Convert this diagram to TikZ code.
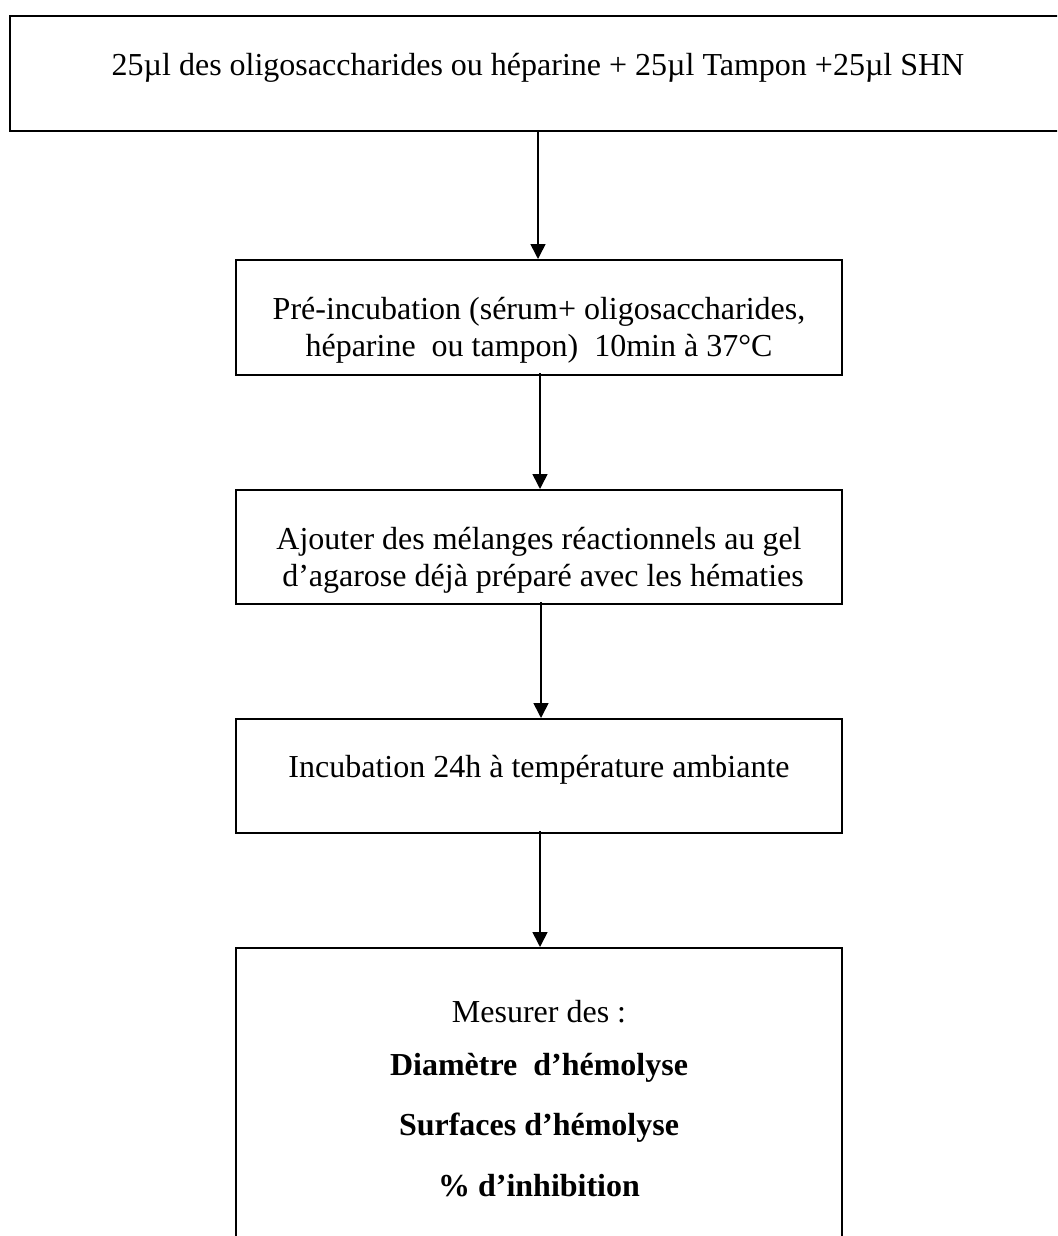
\documentclass[tikz,border=0pt]{standalone}
\usepackage{fontspec}
\setmainfont{Liberation Serif}
\usetikzlibrary{arrows.meta}
\begin{document}
\begin{tikzpicture}[x=1pt,y=-1pt,
  box/.style={draw=black,line width=2pt,minimum width=606pt,inner sep=0pt},
  txt/.style={font=\fontsize{32}{37}\selectfont,align=center,inner sep=0pt},
  flow/.style={line width=1.6pt,-{Triangle[width=15pt,length=15pt]}}]
\useasboundingbox (0,0) rectangle (1057,1236);
\fill[white] (0,0) rectangle (1057,1236);
\clip (0,0) rectangle (1057,1236);
% boxes
\node[box,minimum width=1060pt,minimum height=115pt] (b1) at (540,73.5) {};
\node[box,minimum height=115pt] (b2) at (539,317.5) {};
\node[box,minimum height=114pt] (b3) at (539,547) {};
\node[box,minimum height=114pt] (b4) at (539,776) {};
\node[box,minimum height=320pt] (b5) at (539,1108) {};
% texts
\node[txt] (t1) at (538,68) {25µl des oligosaccharides ou héparine + 25µl Tampon +25µl SHN};
\node[txt] (t2) at (539,330) {Pré-incubation (sérum+ oligosaccharides,\\héparine\ \ ou tampon)\ \ 10min à 37°C};
\node[txt] (t3) at (539,560) {Ajouter des mélanges réactionnels au gel\\\ d’agarose déjà préparé avec les hématies};
\node[txt] (t4) at (539,770) {Incubation 24h à température ambiante};
\node[txt] (t5a) at (539,1012) {Mesurer des :};
\node[txt,font=\fontsize{32}{37}\selectfont\bfseries] (t5b) at (539,1068) {Diamètre\ \ d’hémolyse};
\node[txt,font=\fontsize{32}{37}\selectfont\bfseries] (t5c) at (539,1128) {Surfaces d’hémolyse};
\node[txt,font=\fontsize{32}{37}\selectfont\bfseries] (t5d) at (539,1186) {\% d’inhibition};
% arrows
\draw[flow] (b1.south -| 538,0) -- (b2.north -| 538,0);
\draw[flow] ([yshift=3pt]b2.south -| 540,0) -- (b3.north -| 540,0);
\draw[flow] ([yshift=3pt]b3.south -| 541,0) -- (b4.north -| 541,0);
\draw[flow] ([yshift=3pt]b4.south -| 540,0) -- (b5.north -| 540,0);
\end{tikzpicture}
\end{document}
